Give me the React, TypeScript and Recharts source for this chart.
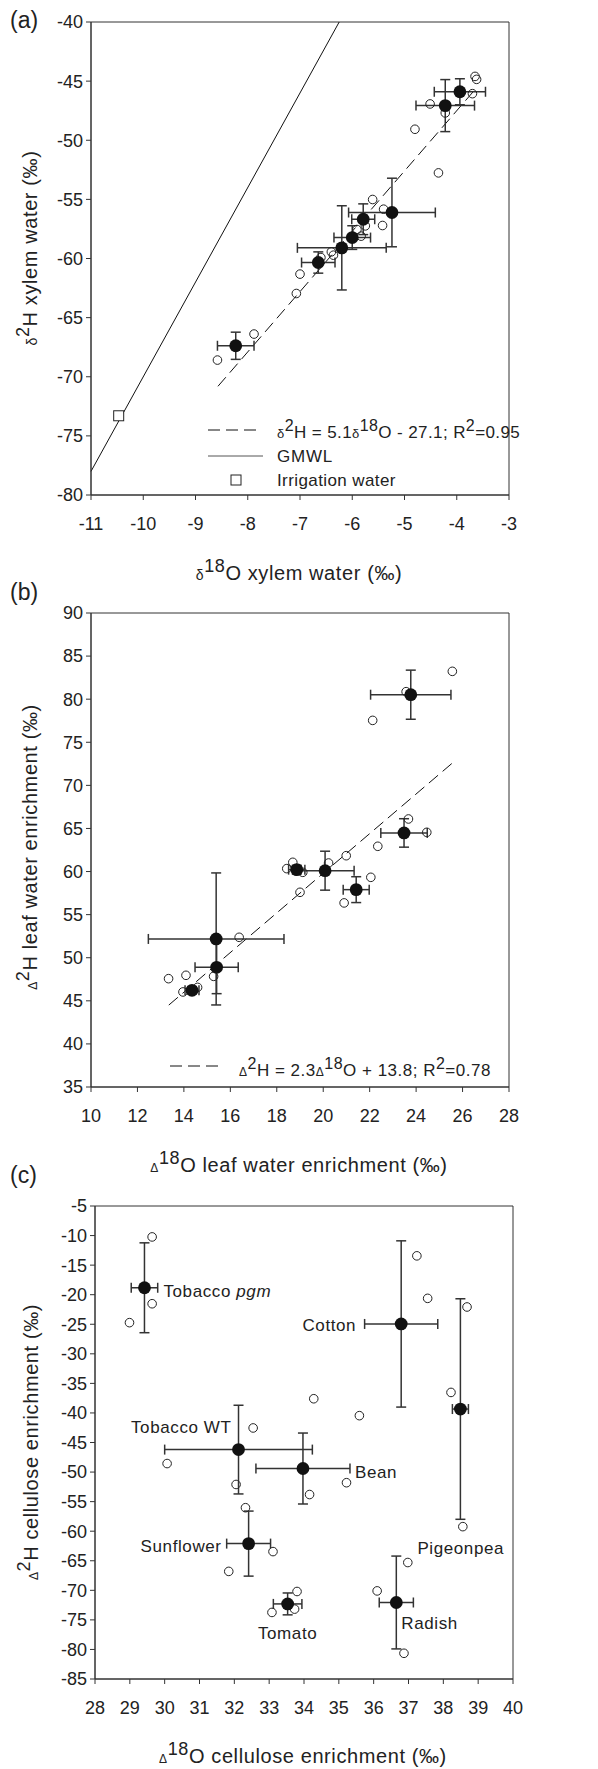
import React from "react";
import {
  ScatterChart,
  Scatter,
  XAxis,
  YAxis,
  ErrorBar,
  ReferenceLine,
  ReferenceArea,
} from "recharts";

// (a) xylem water: individual plants [d18O, d2H]
const xylemSamples: number[][] = [
  [-3.65, -44.6], [-3.62, -44.85], [-3.7, -46.06], [-4.51, -46.93],
  [-4.22, -47.69], [-4.8, -49.07], [-4.35, -52.76], [-5.61, -55.01],
  [-5.4, -55.83], [-5.42, -57.21], [-5.75, -57.24], [-5.91, -57.55],
  [-5.83, -58.11], [-6.4, -59.44], [-6.36, -59.72], [-6.6, -59.92],
  [-7.0, -61.32], [-7.07, -62.96], [-7.88, -66.39], [-8.58, -68.59],
];
// species means [d18O, d2H, sd18O, sd2H]
const xylemMeans: number[][] = [
  [-3.94, -45.9, 0.49, 1.1],
  [-4.22, -47.07, 0.56, 2.2],
  [-5.24, -56.11, 0.83, 2.9],
  [-5.79, -56.68, 0.22, 1.3],
  [-6.0, -58.23, 0.35, 1.0],
  [-6.2, -59.1, 0.85, 3.56],
  [-6.65, -60.34, 0.32, 0.9],
  [-8.23, -67.38, 0.35, 1.15],
];
const irrigation: number[][] = [[-10.47, -73.3]];
const xylemFit = { slope: 5.1, intercept: -27.1, from: -8.57, to: -3.62 };
const gmwl = { slope: 8, intercept: 10, from: -11, to: -6.25 };

// (b) leaf water enrichment [D18O, D2H]
const leafSamples: number[][] = [
  [25.56, 83.23], [23.57, 80.87], [22.13, 77.54], [23.67, 66.1],
  [24.46, 64.55], [22.35, 62.93], [20.99, 61.84], [20.23, 60.99],
  [18.69, 61.07], [18.43, 60.34], [19.12, 59.91], [22.05, 59.33],
  [19.0, 57.59], [20.9, 56.36], [16.38, 52.37], [14.09, 47.96],
  [13.34, 47.57], [15.28, 47.84], [13.96, 46.03], [14.59, 46.56],
];
const leafMeans: number[][] = [
  [23.77, 80.52, 1.73, 2.85],
  [23.48, 64.48, 1.0, 1.65],
  [20.08, 60.1, 1.25, 2.26],
  [18.86, 60.22, 0.35, 0.5],
  [21.42, 57.9, 0.56, 1.5],
  [15.39, 52.18, 2.92, 7.66],
  [15.41, 48.89, 0.93, 3.06],
  [14.35, 46.22, 0.3, 0.4],
];
const leafFit = { slope: 2.3, intercept: 13.8, from: 13.35, to: 25.56 };

// (c) cellulose enrichment [D18O, D2H]
const celluloseSamples: number[][] = [
  [29.64, -10.23], [29.64, -21.53], [28.99, -24.73], [37.24, -13.43],
  [37.55, -20.62], [38.68, -22.08], [38.22, -36.53], [34.28, -37.6],
  [35.59, -40.46], [32.54, -42.54], [30.07, -48.56], [32.05, -52.1],
  [34.16, -53.8], [35.22, -51.8], [38.56, -59.23], [32.32, -56.03],
  [33.11, -63.45], [31.84, -66.8], [36.98, -65.3], [33.8, -70.2],
  [33.08, -73.74], [33.73, -73.18], [36.1, -70.1], [36.87, -80.65],
];
const cropNames = [
  "Tobacco pgm", "Cotton", "Pigeonpea", "Tobacco WT",
  "Bean", "Sunflower", "Tomato", "Radish",
];
const celluloseMeans: number[][] = [
  [29.42, -18.83, 0.38, 7.6],
  [36.79, -24.95, 1.05, 14.06],
  [38.49, -39.34, 0.23, 18.65],
  [32.12, -46.2, 2.12, 7.5],
  [33.97, -49.4, 1.35, 6.0],
  [32.41, -62.1, 0.63, 5.5],
  [33.53, -72.3, 0.41, 1.85],
  [36.65, -72.06, 0.49, 7.85],
];

const xTicksA = [-11, -10, -9, -8, -7, -6, -5, -4, -3];
const yTicksA = [-80, -75, -70, -65, -60, -55, -50, -45, -40];
const xTicksB = [10, 12, 14, 16, 18, 20, 22, 24, 26, 28];
const yTicksB = [35, 40, 45, 50, 55, 60, 65, 70, 75, 80, 85, 90];
const xTicksC = [28, 29, 30, 31, 32, 33, 34, 35, 36, 37, 38, 39, 40];
const yTicksC = [-85, -80, -75, -70, -65, -60, -55, -50, -45, -40, -35, -30, -25, -20, -15, -10, -5];

// label placement next to each crop mean (pixels)
const cropLabelPos: Record<string, { dx: number; dy: number; anchor: string }> = {
  "Tobacco pgm": { dx: 19, dy: 9, anchor: "start" },
  Cotton: { dx: -45, dy: 7, anchor: "end" },
  Pigeonpea: { dx: -43, dy: 145, anchor: "start" },
  "Tobacco WT": { dx: -7, dy: -17, anchor: "end" },
  Bean: { dx: 52, dy: 9, anchor: "start" },
  Sunflower: { dx: -27, dy: 8, anchor: "end" },
  Tomato: { dx: 0, dy: 35, anchor: "middle" },
  Radish: { dx: 5, dy: 27, anchor: "start" },
};

const FONT = "'Liberation Sans', Arial, sans-serif";
const INK = "#222";

const pts = (arr: number[][]) => arr.map(([x, y]) => ({ x, y }));
const means = (arr: number[][], names?: string[]) =>
  arr.map(([x, y, ex, ey], i) => ({ x, y, ex, ey, name: names ? names[i] : "" }));
const seg = (f: { slope: number; intercept: number; from: number; to: number }) => [
  { x: f.from, y: f.slope * f.from + f.intercept },
  { x: f.to, y: f.slope * f.to + f.intercept },
];

const OpenDot = (p: any) => (
  <circle cx={p.cx} cy={p.cy} r={4.3} fill="none" stroke={INK} strokeWidth={1} />
);
const FilledDot = (p: any) => <circle cx={p.cx} cy={p.cy} r={6.4} fill="#111" />;
const SquareDot = (p: any) => (
  <rect x={p.cx - 5} y={p.cy - 5} width={10} height={10} fill="#fff" stroke={INK} />
);
const CropLabel = (p: any) => {
  const name: string = (p.payload && p.payload.name) || p.name;
  const pos = cropLabelPos[name];
  const italic = name === "Tobacco pgm";
  return (
    <text
      x={p.cx + pos.dx}
      y={p.cy + pos.dy}
      textAnchor={pos.anchor as any}
      fontSize={17}
      fontFamily={FONT}
      fill={INK}
      letterSpacing={0.6}
    >
      {italic ? (
        <>
          Tobacco <tspan fontStyle="italic">pgm</tspan>
        </>
      ) : (
        name
      )}
    </text>
  );
};

const tickStyle = { fontSize: 18, fill: INK, fontFamily: FONT };

function Axes(props: { xd: number[]; yd: number[]; xt: number[]; yt: number[]; yw: number }) {
  return null;
}

function Panel(props: {
  width: number;
  height: number;
  margin: { top: number; right: number; bottom: number; left: number };
  yWidth: number;
  xDomain: number[];
  yDomain: number[];
  xTicks: number[];
  yTicks: number[];
  children: React.ReactNode;
}) {
  const { xDomain, yDomain } = props;
  return (
    <ScatterChart width={props.width} height={props.height} margin={props.margin}>
      <XAxis
        type="number"
        dataKey="x"
        domain={xDomain}
        ticks={props.xTicks}
        interval={0}
        allowDataOverflow
        tick={tickStyle}
        tickSize={5}
        tickMargin={17}
        height={30}
        stroke="#333"
      />
      <YAxis
        type="number"
        dataKey="y"
        domain={yDomain}
        ticks={props.yTicks}
        interval={0}
        allowDataOverflow
        tick={tickStyle}
        tickSize={5}
        tickMargin={3}
        width={props.yWidth}
        stroke="#333"
      />
      <ReferenceArea
        x1={xDomain[0]}
        x2={xDomain[1]}
        y1={yDomain[0]}
        y2={yDomain[1]}
        fill="none"
        stroke="#333"
        strokeWidth={1}
        fillOpacity={0}
      />
      {props.children}
    </ScatterChart>
  );
}

function Sup(props: { sym: string; num: string; rest: string; size: number; symSize: number }) {
  return (
    <>
      <tspan fontSize={props.symSize}>{props.sym}</tspan>
      <tspan fontSize={props.size - 2} dy={-8}>
        {props.num}
      </tspan>
      <tspan fontSize={props.size} dy={8}>
        {props.rest}
      </tspan>
    </>
  );
}

export default function App() {
  const titleSize = 20;
  return (
    <div style={{ position: "absolute", left: 0, top: 0, width: 598, height: 1769, background: "#fff" }}>
      {/* (a) */}
      <div style={{ position: "absolute", left: 0, top: 0 }}>
        <Panel
          width={598}
          height={560}
          margin={{ top: 22, right: 89, bottom: 35, left: 0 }}
          yWidth={91}
          xDomain={[-11, -3]}
          yDomain={[-80, -40]}
          xTicks={xTicksA}
          yTicks={yTicksA}
        >
          <ReferenceLine segment={seg(gmwl)} stroke="#111" strokeWidth={1} ifOverflow="visible" />
          <ReferenceLine
            segment={seg(xylemFit)}
            stroke="#111"
            strokeWidth={1}
            strokeDasharray="12 6"
            ifOverflow="visible"
          />
          <Scatter data={pts(xylemSamples)} shape={OpenDot} isAnimationActive={false} />
          <Scatter data={pts(irrigation)} shape={SquareDot} isAnimationActive={false} />
          <Scatter data={means(xylemMeans)} shape={FilledDot} isAnimationActive={false}>
            <ErrorBar dataKey="ex" direction="x" width={5} stroke="#333" isAnimationActive={false} />
            <ErrorBar dataKey="ey" direction="y" width={5} stroke="#333" isAnimationActive={false} />
          </Scatter>
        </Panel>
      </div>

      {/* (b) */}
      <div style={{ position: "absolute", left: 0, top: 560 }}>
        <Panel
          width={598}
          height={590}
          margin={{ top: 53, right: 89, bottom: 33, left: 0 }}
          yWidth={91}
          xDomain={[10, 28]}
          yDomain={[35, 90]}
          xTicks={xTicksB}
          yTicks={yTicksB}
        >
          <ReferenceLine
            segment={seg(leafFit)}
            stroke="#111"
            strokeWidth={1}
            strokeDasharray="12 6"
            ifOverflow="visible"
          />
          <Scatter data={pts(leafSamples)} shape={OpenDot} isAnimationActive={false} />
          <Scatter data={means(leafMeans)} shape={FilledDot} isAnimationActive={false}>
            <ErrorBar dataKey="ex" direction="x" width={5} stroke="#333" isAnimationActive={false} />
            <ErrorBar dataKey="ey" direction="y" width={5} stroke="#333" isAnimationActive={false} />
          </Scatter>
        </Panel>
      </div>

      {/* (c) */}
      <div style={{ position: "absolute", left: 0, top: 1150 }}>
        <Panel
          width={598}
          height={619}
          margin={{ top: 56, right: 85, bottom: 60, left: 0 }}
          yWidth={95}
          xDomain={[28, 40]}
          yDomain={[-85, -5]}
          xTicks={xTicksC}
          yTicks={yTicksC}
        >
          <Scatter data={pts(celluloseSamples)} shape={OpenDot} isAnimationActive={false} />
          <Scatter data={means(celluloseMeans, cropNames)} shape={FilledDot} isAnimationActive={false}>
            <ErrorBar dataKey="ex" direction="x" width={5} stroke="#333" isAnimationActive={false} />
            <ErrorBar dataKey="ey" direction="y" width={5} stroke="#333" isAnimationActive={false} />
          </Scatter>
          <Scatter data={means(celluloseMeans, cropNames)} shape={CropLabel} isAnimationActive={false} />
        </Panel>
      </div>

      {/* titles, legends and panel letters */}
      <svg
        width={598}
        height={1769}
        style={{ position: "absolute", left: 0, top: 0, pointerEvents: "none" }}
        fontFamily={FONT}
        fill={INK}
      >
        <text x={10} y={28} fontSize={23}>(a)</text>
        <text x={10} y={600} fontSize={23}>(b)</text>
        <text x={10} y={1183} fontSize={23}>(c)</text>

        <text x={299} y={580} textAnchor="middle" letterSpacing={0.6}>
          <Sup sym="δ" num="18" rest="O xylem water (‰)" size={titleSize} symSize={14} />
        </text>
        <text x={37} y={248} textAnchor="middle" transform="rotate(-90 37 248)" letterSpacing={0.6}>
          <Sup sym="δ" num="2" rest="H xylem water (‰)" size={titleSize} symSize={14} />
        </text>

        <text x={299} y={1172} textAnchor="middle" letterSpacing={0.6}>
          <Sup sym="Δ" num="18" rest="O leaf water enrichment (‰)" size={titleSize} symSize={12} />
        </text>
        <text x={37} y={847} textAnchor="middle" transform="rotate(-90 37 847)" letterSpacing={0.6}>
          <Sup sym="Δ" num="2" rest="H leaf water enrichment (‰)" size={titleSize} symSize={12} />
        </text>

        <text x={303} y={1763} textAnchor="middle" letterSpacing={0.6}>
          <Sup sym="Δ" num="18" rest="O cellulose enrichment (‰)" size={titleSize} symSize={12} />
        </text>
        <text x={38} y={1442} textAnchor="middle" transform="rotate(-90 38 1442)" letterSpacing={0.6}>
          <Sup sym="Δ" num="2" rest="H cellulose enrichment (‰)" size={titleSize} symSize={12} />
        </text>

        {/* legend (a) */}
        <line x1={208} x2={258} y1={430} y2={430} stroke="#111" strokeDasharray="12 6" />
        <text x={277} y={438} fontSize={17} letterSpacing={0.4}>
          <tspan fontSize={13}>δ</tspan>
          <tspan fontSize={16} dy={-7}>2</tspan>
          <tspan dy={7}>H = 5.1</tspan>
          <tspan fontSize={13}>δ</tspan>
          <tspan fontSize={16} dy={-7}>18</tspan>
          <tspan dy={7}>O - 27.1; R</tspan>
          <tspan fontSize={16} dy={-7}>2</tspan>
          <tspan dy={7}>=0.95</tspan>
        </text>
        <line x1={208} x2={263} y1={456} y2={456} stroke="#555" />
        <text x={277} y={462} fontSize={17} letterSpacing={0.8}>GMWL</text>
        <rect x={231} y={475} width={10} height={10} fill="#fff" stroke={INK} />
        <text x={277} y={486} fontSize={17} letterSpacing={0.4}>Irrigation water</text>

        {/* legend (b) */}
        <line x1={170} x2={220} y1={1066} y2={1066} stroke="#111" strokeDasharray="12 6" />
        <text x={239} y={1076} fontSize={17} letterSpacing={0.5}>
          <tspan fontSize={12}>Δ</tspan>
          <tspan fontSize={16} dy={-7}>2</tspan>
          <tspan dy={7}>H = 2.3</tspan>
          <tspan fontSize={12}>Δ</tspan>
          <tspan fontSize={16} dy={-7}>18</tspan>
          <tspan dy={7}>O + 13.8; R</tspan>
          <tspan fontSize={16} dy={-7}>2</tspan>
          <tspan dy={7}>=0.78</tspan>
        </text>
      </svg>
    </div>
  );
}
